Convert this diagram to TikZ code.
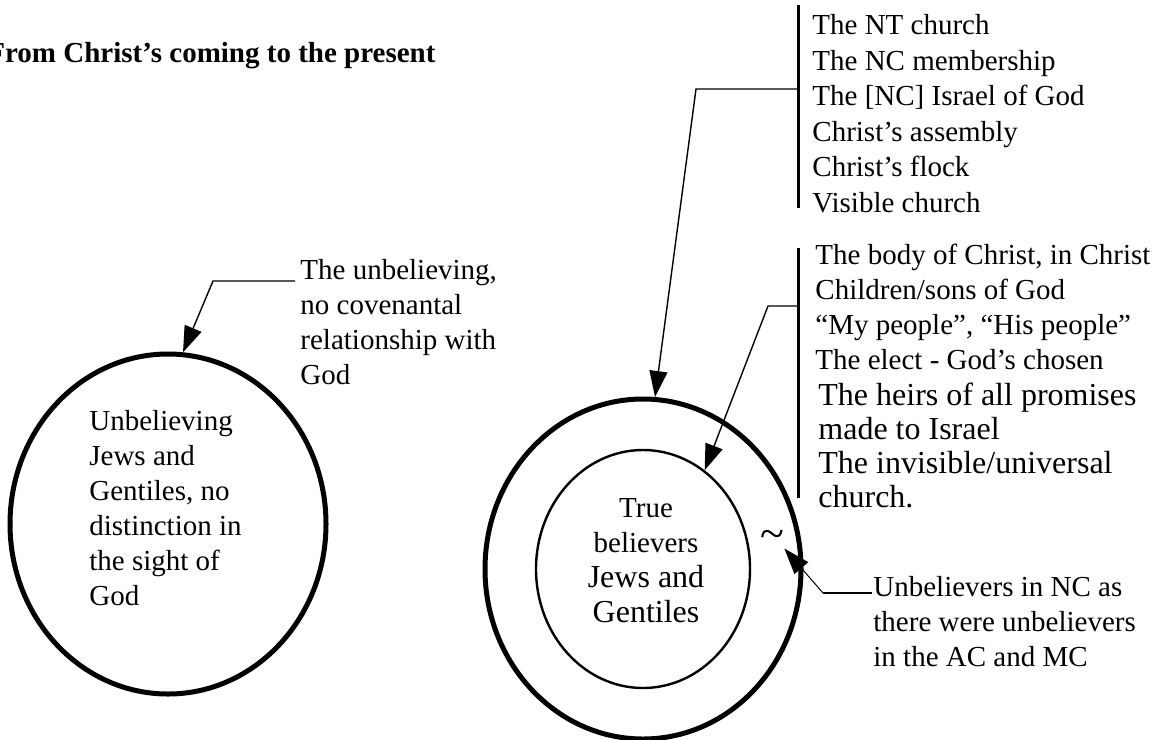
\documentclass[tikz,border=0pt]{standalone}
\usepackage{fontspec}
\setmainfont{Liberation Serif}
\usetikzlibrary{arrows.meta,positioning,shapes.geometric}

\newcommand{\txtfont}{\fontsize{14.5}{17.5}\selectfont}
\newcommand{\bigfont}{\fontsize{16}{17}\selectfont}

\begin{document}
\begin{tikzpicture}[x=0.5pt,y=-0.5pt,
  ring/.style={draw,ellipse,minimum width=158pt,minimum height=170pt,line width=2.5pt},
  core/.style={draw,ellipse,minimum width=107pt,minimum height=119pt,line width=1.2pt},
  lbl/.style={align=left,inner sep=0pt,font=\txtfont},
  leader/.style={line width=0.7pt,-{Triangle[length=13pt,width=9pt]}},
  bar/.style={line width=1.5pt}]
\useasboundingbox (0,0) rectangle (1159,739);

\draw (-13,62) node[anchor=base west,inner sep=0pt,font=\txtfont\bfseries] (title) {From Christ’s coming to the present};

% left side: outside the covenant
\draw (168,524) node[ring] (lcirc) {};
\draw (89,410) node[lbl,anchor=north west] (ltext) {Unbelieving\\Jews and\\Gentiles, no\\distinction in\\the sight of\\God};
\draw (300,259) node[lbl,anchor=north west] (unbel) {The unbelieving,\\no covenantal\\relationship with\\God};
\coordinate (ustart) at (295,281);
\coordinate (ukink) at (213,281);
\draw[leader] (ustart) -- (ukink) -- (lcirc.85);

% right side: the NC
\draw (643,569) node[ring] (outer) {};
\draw (643,569) node[core] (inner) {};
\draw (646,561) node[align=center,inner sep=0pt,font=\txtfont] (tb) {True\\believers\\{\bigfont Jews and}\\{\bigfont Gentiles}};

\draw (812,14) node[lbl,anchor=north west,font=\fontsize{14.5}{17.8}\selectfont] (ntlist) {The NT church\\The NC membership\\The [NC] Israel of God\\Christ’s assembly\\Christ’s flock\\Visible church};
\coordinate (ntbar1) at (798,5);
\coordinate (ntbar2) at (798,208);
\draw[bar] (ntbar1) -- (ntbar2);
\coordinate (ntjoin) at (798,89);
\draw[leader] (ntjoin) -- (696,89) -- (outer.86);

\draw (815,244) node[lbl,anchor=north west] (bodylist) {The body of Christ, in Christ\\Children/sons of God\\“My people”, “His people”\\The elect - God’s chosen};
\draw (818,383) node[lbl,anchor=north west,font=\bigfont] (heirs) {The heirs of all promises\\made to Israel\\The invisible/universal\\church.};
\coordinate (bodybar1) at (798,248);
\coordinate (bodybar2) at (798,498);
\draw[bar] (bodybar1) -- (bodybar2);
\coordinate (bodyjoin) at (798,306);
\draw[leader] (bodyjoin) -- (768,306) -- (inner.58);

% unbelievers inside the NC
\draw (873,576) node[lbl,anchor=north west] (unblist) {Unbelievers in NC as\\there were unbelievers\\in the AC and MC};
\draw (772,539) node[inner sep=0pt,font=\fontsize{22}{22}\selectfont] (tld) {\textasciitilde};
\coordinate (ncstart) at (872,593);
\coordinate (nckink) at (823,593);
\draw[line width=1.2pt] (ncstart) -- (nckink);
\draw[leader,line width=0.5pt] (nckink) -- (tld.south east);
\end{tikzpicture}
\end{document}
